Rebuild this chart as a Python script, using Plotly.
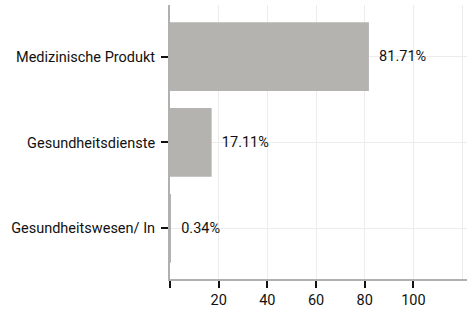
import plotly.graph_objects as go

categories = ["Medizinische Produkt", "Gesundheitsdienste", "Gesundheitswesen/ In"]
values = [81.71, 17.11, 0.34]
tick_vals = [0, 20, 40, 60, 80, 100]
tick_text = ["", "20", "40", "60", "80", "100"]
extra_grid = [120]

FONT = "Roboto"
FS = 14.5

fig = go.Figure(go.Bar(
    x=values, y=categories, orientation="h",
    marker=dict(color="#b4b3af", line=dict(width=0)),
    text=[f"\u00a0\u00a0{v:.2f}%" for v in values],
    textposition="outside", cliponaxis=False,
    textfont=dict(family=FONT, size=FS, color="#111111"),
    hoverinfo="skip",
))

fig.update_layout(
    width=467, height=311,
    margin=dict(l=170, r=0, t=5, b=32),
    paper_bgcolor="white", plot_bgcolor="white",
    font=dict(family=FONT, size=FS, color="#111111"),
    bargap=0.2, showlegend=False,
)
fig.update_xaxes(
    range=[0, 122], tickmode="array", tickvals=tick_vals, ticktext=tick_text,
    ticks="outside", ticklen=7, tickwidth=2, tickcolor="#111111",
    showgrid=True, gridcolor="#ececec", gridwidth=1,
    showline=True, linecolor="#b0b0b0", linewidth=2, zeroline=False,
    minor=dict(tickmode="array", tickvals=extra_grid, showgrid=True, gridcolor="#ececec", ticks=""),
    tickfont=dict(size=FS),
)
fig.update_yaxes(
    autorange=False, range=[2.59, -0.6], categoryorder="array", categoryarray=categories,
    ticks="outside", ticklen=7, tickwidth=2, tickcolor="#111111",
    showgrid=True, gridcolor="#ececec", gridwidth=1,
    showline=True, linecolor="#b0b0b0", linewidth=2, zeroline=False,
    tickfont=dict(size=FS), ticklabelstandoff=3,
)

fig.write_html(
    "out.html",
    config={"displayModeBar": False},
    post_script="document.body.style.margin='0';document.body.style.padding='0';",
)
